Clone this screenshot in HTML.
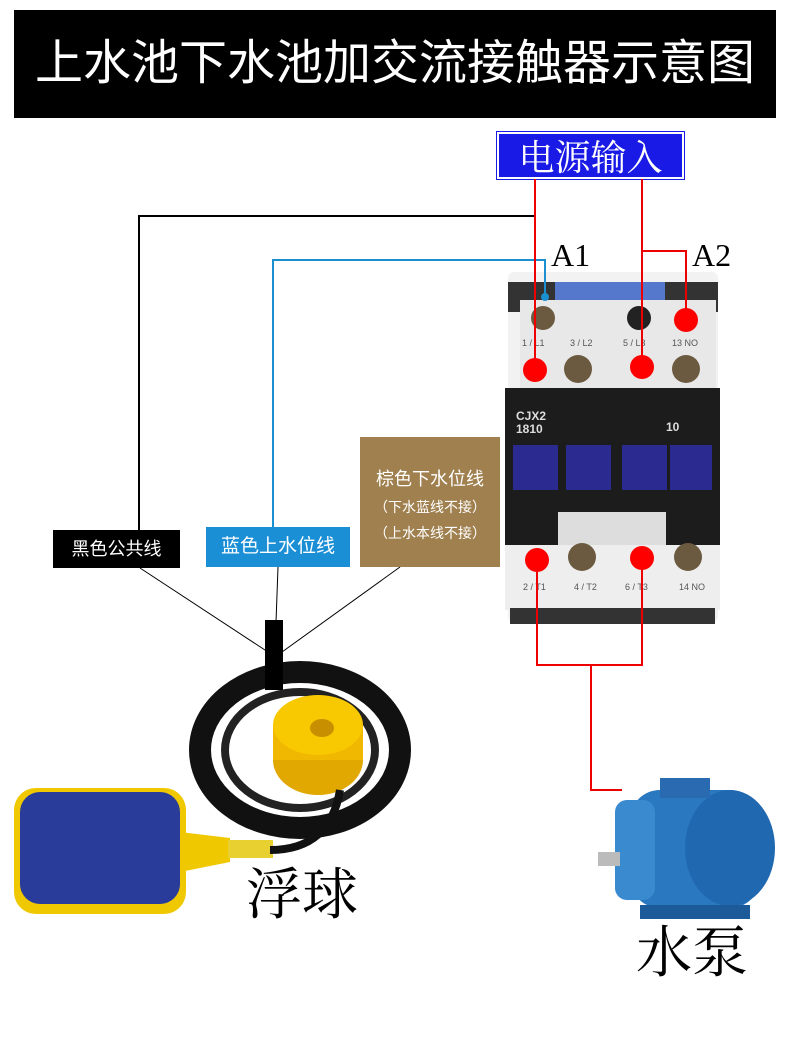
<!DOCTYPE html>
<html><head><meta charset="utf-8"><style>
body{margin:0;width:790px;height:1050px;background:#fff;position:relative;overflow:hidden;font-family:"Liberation Sans","Noto Sans CJK SC",sans-serif}
.a{position:absolute}
</style></head><body>
<div class="a" style="left:14px;top:10px;width:762px;height:108px;background:#000;color:#fff;font-size:48px;line-height:108px;text-align:center;white-space:nowrap">上水池下水池加交流接触器示意图</div>
<div class="a" style="left:497px;top:132px;width:183px;height:43px;background:#1a1ae6;border:2px solid #fff;outline:1px solid #1a1ae6;color:#fff;font-size:36px;line-height:43px;text-align:center;font-family:'Noto Serif CJK SC',serif">电源输入</div>
<svg class="a" style="left:0;top:0" width="790" height="1050">
<rect x="508" y="272" width="210" height="350" rx="6" fill="#f2f2f2"/>
<rect x="508" y="282" width="210" height="30" fill="#333"/>
<rect x="555" y="282" width="110" height="20" fill="#5577cc"/>
<rect x="520" y="300" width="196" height="90" fill="#e8e8e8"/>
<rect x="505" y="388" width="215" height="160" fill="#1c1c1c"/>
<rect x="513" y="445" width="45" height="45" fill="#2a2a90"/>
<rect x="566" y="445" width="45" height="45" fill="#2a2a90"/>
<rect x="622" y="445" width="45" height="45" fill="#2a2a90"/>
<rect x="670" y="445" width="42" height="45" fill="#2a2a90"/>
<rect x="558" y="512" width="108" height="36" fill="#ddd"/>
<rect x="505" y="545" width="215" height="65" fill="#eee"/>
<rect x="510" y="608" width="205" height="16" fill="#333"/>
<g fill="#6b5a40"><circle cx="578" cy="369" r="14"/><circle cx="686" cy="369" r="14"/><circle cx="582" cy="557" r="14"/><circle cx="688" cy="557" r="14"/><circle cx="639" cy="318" r="12" fill="#222"/><circle cx="543" cy="318" r="12"/></g>
<g font-family="Liberation Sans" font-size="9" fill="#555"><text x="522" y="346">1 / L1</text><text x="570" y="346">3 / L2</text><text x="623" y="346">5 / L3</text><text x="672" y="346">13 NO</text><text x="523" y="590">2 / T1</text><text x="574" y="590">4 / T2</text><text x="625" y="590">6 / T3</text><text x="679" y="590">14 NO</text></g>
<g font-family="Liberation Sans" font-size="12" fill="#ddd" font-weight="bold"><text x="516" y="420">CJX2</text><text x="516" y="433">1810</text><text x="666" y="431">10</text></g>
<polyline points="139,540 139,216 535,216" fill="none" stroke="#000" stroke-width="2"/>
<polyline points="273,540 273,260 545,260 545,297" fill="none" stroke="#1a90d0" stroke-width="2"/>
<circle cx="545" cy="297" r="4" fill="#1a90d0"/>
<g fill="none" stroke="#e00" stroke-width="2">
<line x1="535" y1="179" x2="535" y2="370"/><line x1="642" y1="179" x2="642" y2="367"/>
<polyline points="642,251 686,251 686,320"/>
<polyline points="537,560 537,665 642,665 642,558"/>
<polyline points="591,665 591,790 622,790"/>
</g>
<g fill="#f00"><circle cx="535" cy="370" r="12"/><circle cx="642" cy="367" r="12"/><circle cx="686" cy="320" r="12"/><circle cx="537" cy="560" r="12"/><circle cx="642" cy="558" r="12"/></g>
<text x="551" y="266" font-family="Liberation Serif" font-size="32">A1</text>
<text x="692" y="266" font-family="Liberation Serif" font-size="32">A2</text>
<g stroke="#000" stroke-width="1"><line x1="140" y1="568" x2="268" y2="652"/><line x1="278" y1="567" x2="275" y2="650"/><line x1="400" y1="567" x2="282" y2="652"/></g>
<ellipse cx="300" cy="750" rx="100" ry="78" fill="none" stroke="#111" stroke-width="22"/>
<ellipse cx="300" cy="750" rx="75" ry="58" fill="none" stroke="#222" stroke-width="8"/>
<rect x="265" y="620" width="18" height="70" fill="#000"/>
<ellipse cx="318" cy="760" rx="45" ry="35" fill="#e0a800"/>
<rect x="273" y="725" width="90" height="35" fill="#f0b800"/>
<ellipse cx="318" cy="725" rx="45" ry="30" fill="#f8c800"/>
<ellipse cx="322" cy="728" rx="12" ry="9" fill="#c89000"/>
<rect x="14" y="788" width="172" height="126" rx="22" fill="#f0c800"/>
<rect x="20" y="792" width="160" height="112" rx="20" fill="#2a3c9a"/>
<polygon points="180,832 230,838 230,862 180,872" fill="#f0c800"/>
<rect x="228" y="840" width="45" height="18" fill="#e8d030"/>
<path d="M270 850 Q330 850 340 790" stroke="#111" stroke-width="8" fill="none"/>
<rect x="630" y="790" width="130" height="118" rx="30" fill="#2a78c0"/>
<rect x="615" y="800" width="40" height="100" rx="12" fill="#3a8ad0"/>
<ellipse cx="730" cy="848" rx="45" ry="58" fill="#2068b0"/>
<rect x="660" y="778" width="50" height="20" fill="#2a6ab0"/>
<rect x="598" y="852" width="22" height="14" fill="#bbb"/>
<rect x="640" y="905" width="110" height="14" fill="#1d5a9a"/>
</svg>
<div class="a" style="left:53px;top:530px;width:127px;height:38px;background:#000;color:#fff;font-size:18px;line-height:38px;text-align:center">黑色公共线</div>
<div class="a" style="left:206px;top:527px;width:144px;height:40px;background:#1a8fd6;color:#fff;font-size:19px;line-height:40px;text-align:center">蓝色上水位线</div>
<div class="a" style="left:360px;top:437px;width:140px;height:130px;background:#a0804f;color:#fff;text-align:center">
<div style="font-size:18px;margin-top:28px">棕色下水位线</div>
<div style="font-size:14px;margin-top:6px">（下水蓝线不接）</div>
<div style="font-size:14px;margin-top:6px">（上水本线不接）</div></div>
<div class="a" style="left:246px;top:858px;font-size:56px;font-family:'Noto Serif CJK SC',serif;line-height:66px">浮球</div>
<div class="a" style="left:636px;top:916px;font-size:56px;font-family:'Noto Serif CJK SC',serif;line-height:66px">水泵</div>
</body></html>
